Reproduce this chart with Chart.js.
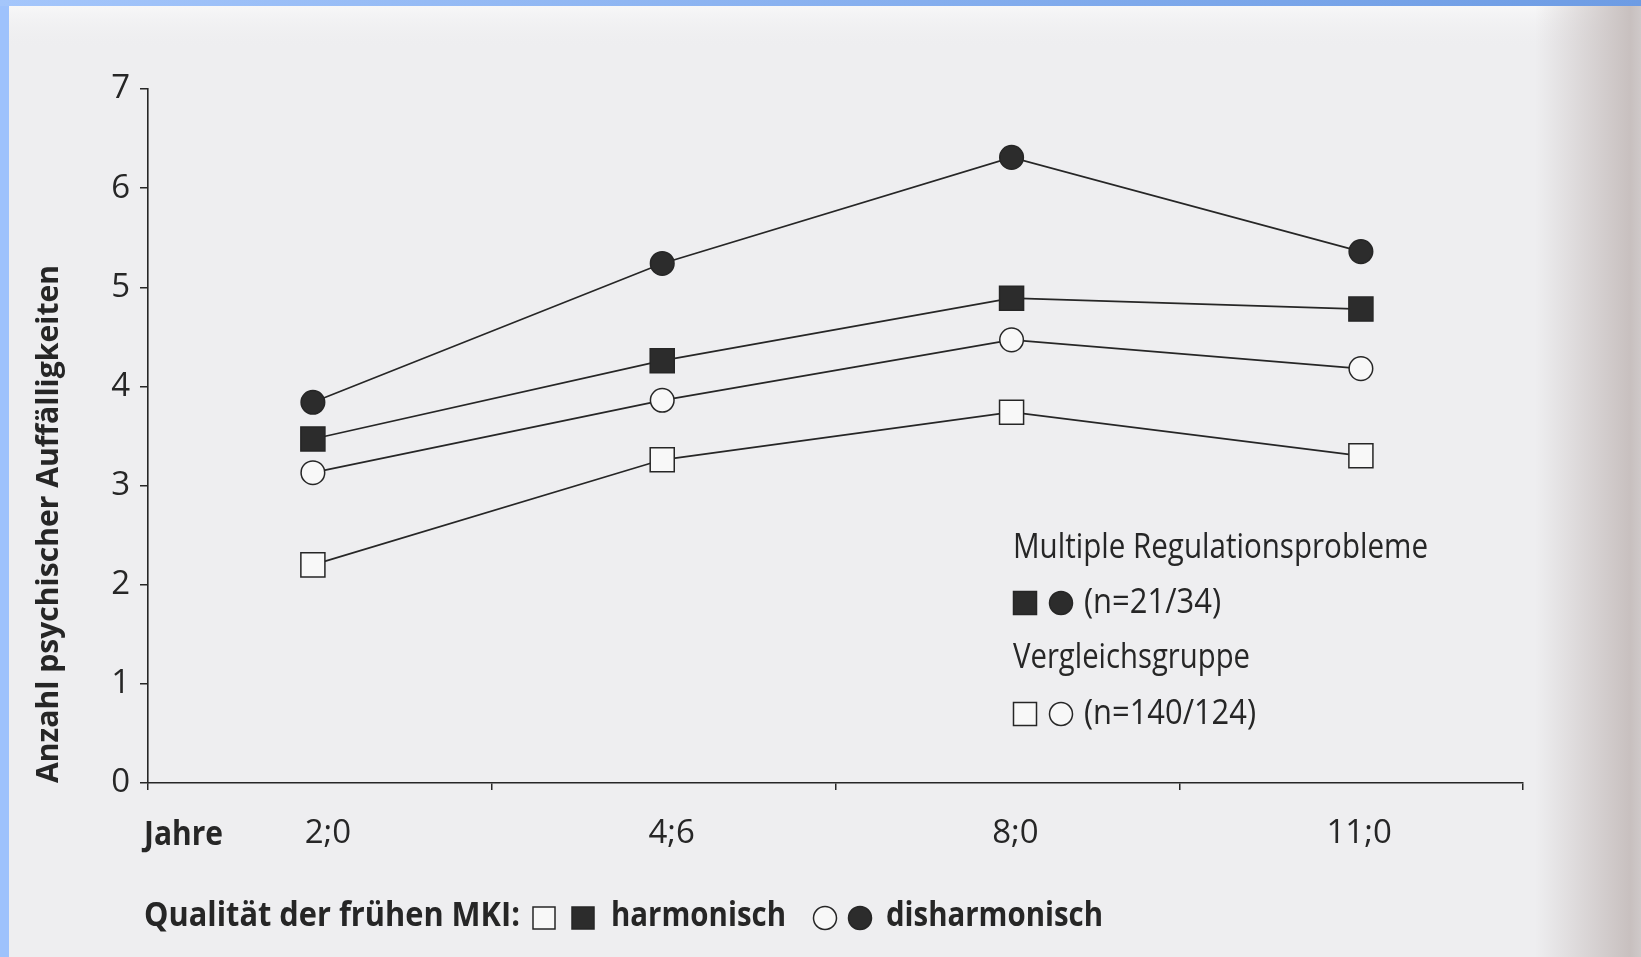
<!DOCTYPE html>
<html>
<head>
<meta charset="utf-8">
<script src="https://cdn.jsdelivr.net/npm/chart.js@4.4.1/dist/chart.umd.min.js"></script>
<style>
	html, body { margin:0; padding:0; overflow:hidden; background:#eeeef0; }
	#wrap { position:relative; width:1641px; height:957px; }
</style>
</head>
<body>
<div id="wrap"><canvas id="c" width="1641" height="957"></canvas></div>
<script>
const jahre = ['2;0', '4;6', '8;0', '11;0']
const yMin = 0, yMax = 7

// Multiple Regulationsprobleme (gefuellt) / Vergleichsgruppe (leer)
const mrpDisharmonisch = [3.84, 5.24, 6.31, 5.36]
const mrpHarmonisch    = [3.47, 4.26, 4.89, 4.78]
const vglDisharmonisch = [3.13, 3.86, 4.47, 4.18]
const vglHarmonisch    = [2.20, 3.26, 3.74, 3.30]

const tinta = '#262626'
const hitam = '#2c2c2c'
const putih = '#f8f8f8'
const fReg = '"Open Sans", "Noto Sans", sans-serif'

// teks dipaksa ke lebar tertentu (huruf aslinya condensed)
const tulis = (ctx, s, x, y, w, font, rot) => {
	ctx.save()
	ctx.font = font
	ctx.fillStyle = tinta
	ctx.textBaseline = 'middle'
	ctx.textAlign = 'left'
	const k = w / ctx.measureText(s).width
	ctx.translate(x, y)
	if (rot) ctx.rotate(rot)
	ctx.scale(k, 1)
	ctx.fillText(s, 0, 0)
	ctx.restore()
}
const kotak = (ctx, x, y, s, isi) => {
	ctx.fillStyle = isi; ctx.strokeStyle = tinta; ctx.lineWidth = 1.5
	ctx.fillRect(x - s/2, y - s/2, s, s); ctx.strokeRect(x - s/2, y - s/2, s, s)
}
const bulat = (ctx, x, y, s, isi) => {
	ctx.fillStyle = isi; ctx.strokeStyle = tinta; ctx.lineWidth = 1.5
	ctx.beginPath(); ctx.arc(x, y, s/2, 0, Math.PI*2); ctx.fill(); ctx.stroke()
}

const kertas = {
	id: 'kertas',
	beforeDraw: c => {
		const x = c.ctx, W = c.width, H = c.height
		x.save()
		x.fillStyle = '#eeeef0'; x.fillRect(0, 0, W, H)
		let g = x.createLinearGradient(0, 0, 0, 48)
		g.addColorStop(0, '#fafafa'); g.addColorStop(1, 'rgba(238,238,240,0)')
		x.fillStyle = g; x.fillRect(0, 0, W, 48)
		g = x.createLinearGradient(1535, 0, W, 0)
		g.addColorStop(0, 'rgba(200,192,192,0)'); g.addColorStop(0.9, '#c8c0bf'); g.addColorStop(1, '#cfc9c9')
		x.fillStyle = g; x.fillRect(1535, 0, W - 1535, H)
		x.fillStyle = '#9ec2fc'; x.fillRect(0, 0, 9, H)
		g = x.createLinearGradient(0, 0, W, 0)
		g.addColorStop(0, '#a4c6fb'); g.addColorStop(1, '#6d9ce4')
		x.fillStyle = g; x.fillRect(0, 0, W, 6)
		x.restore()
	}
}

const teks = {
	id: 'teks',
	afterDraw: c => {
		const x = c.ctx
		tulis(x, 'Anzahl psychischer Auffälligkeiten', 49, 783, 518, 'bold 31px ' + fReg, -Math.PI/2)
		tulis(x, 'Jahre', 144, 835, 79, 'bold 34px ' + fReg)

		tulis(x, 'Multiple Regulationsprobleme', 1013, 548, 415, '35px ' + fReg)
		kotak(x, 1025, 603, 23, hitam); bulat(x, 1061, 603, 23, hitam)
		tulis(x, '(n=21/34)', 1084, 603, 137, '35px ' + fReg)
		tulis(x, 'Vergleichsgruppe', 1013, 658, 237, '35px ' + fReg)
		kotak(x, 1025, 714, 23, putih); bulat(x, 1061, 714, 23, putih)
		tulis(x, '(n=140/124)', 1084, 714, 172, '35px ' + fReg)

		tulis(x, 'Qualität der frühen MKI:', 144, 916, 376, 'bold 34px ' + fReg)
		kotak(x, 544, 918, 22, putih); kotak(x, 583, 918, 22, hitam)
		tulis(x, 'harmonisch', 611, 916, 175, 'bold 34px ' + fReg)
		bulat(x, 825, 918, 23, putih); bulat(x, 860, 918, 23, hitam)
		tulis(x, 'disharmonisch', 886, 916, 217, 'bold 34px ' + fReg)
	}
}

// titik data memakai sumbu linear tersembunyi (posisi indeks 0..3)
const seri = (label, data, gaya, isi) => ({
	label,
	data: data.map((v, i) => ({ x: i, y: v })),
	xAxisID: 'xd',
	borderColor: tinta, borderWidth: 1.7, tension: 0, fill: false,
	pointStyle: gaya,
	pointRadius: gaya == 'rect' ? 17 : 11.8,
	pointBackgroundColor: isi, pointBorderColor: tinta, pointBorderWidth: 1.5,
})

new Chart(document.getElementById('c'), {
	type: 'line',
	data: {
		labels: jahre,
		datasets: [
			seri('MRP disharmonisch', mrpDisharmonisch, 'circle', hitam),
			seri('MRP harmonisch', mrpHarmonisch, 'rect', hitam),
			seri('Vergleichsgruppe disharmonisch', vglDisharmonisch, 'circle', putih),
			seri('Vergleichsgruppe harmonisch', vglHarmonisch, 'rect', putih),
		]
	},
	options: {
		responsive: false,
		animation: false,
		layout: { padding: { left: 0, right: 118, top: 89, bottom: 60 } },
		plugins: { legend: { display: false }, tooltip: { enabled: false } },
		scales: {
			x: {
				afterFit: s => { s.height = 114 },
				offset: true,
				grid: { drawOnChartArea: false, offset: true, tickLength: 7, color: tinta, lineWidth: 1.5 },
				border: { display: true, color: tinta, width: 1.6 },
				ticks: { color: tinta, font: { family: fReg, size: 33 }, padding: 24, labelOffset: 8 },
			},
			xd: {
				type: 'linear', display: false, min: -0.472, max: 3.464,
			},
			y: {
				afterFit: s => { s.width = 148 },
				min: yMin, max: yMax,
				grid: { drawOnChartArea: false, tickLength: 8, color: tinta, lineWidth: 1.5 },
				border: { display: true, color: tinta, width: 1.6 },
				ticks: { stepSize: 1, color: tinta, font: { family: fReg, size: 33 }, padding: 10 },
			}
		}
	},
	plugins: [kertas, teks]
})
</script>
</body>
</html>
